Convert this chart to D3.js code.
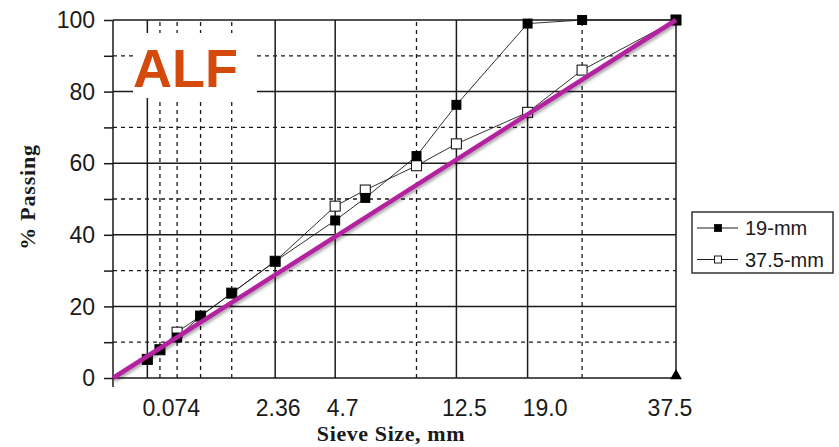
<!DOCTYPE html>
<html>
<head>
<meta charset="utf-8">
<script src="https://cdn.jsdelivr.net/npm/d3@7"></script>
<style>
  html, body { margin: 0; padding: 0; background: #fff; }
  svg { display: block; }
</style>
</head>
<body>
<div id="chart"></div>
<script>
// Sieve sizes (mm) and percent passing for the two gradations
const sieves = [0.075, 0.15, 0.3, 0.6, 1.18, 2.36, 4.75, 6.3, 9.5, 12.5, 19, 25, 37.5];
const pass19 = [5.2, 7.9, 11.3, 17.3, 23.7, 32.6, 44.0, 50.3, 62.0, 76.3, 99.0, 100, 100];
const pass375 = [5.2, 7.9, 12.8, 17.3, 23.7, 32.6, 48.0, 52.5, 59.3, 65.4, 74.2, 86.0, 100];

// Maximum density line end points (0.45 power)
const mdlSizes = [0, 37.5];
const mdlPass = [0, 100];

// Grid lines
const solidSieves = [0.075, 2.36, 4.75, 12.5, 19, 37.5];
const dashedSieves = [0.15, 0.3, 0.6, 1.18, 9.5, 25];
const solidPct = [0, 20, 40, 60, 80, 100];
const dashedPct = [10, 30, 50, 70, 90];

// Axis labels
const xTickValues = [0.075, 2.36, 4.75, 12.5, 19, 37.5];
const xTickLabels = ["0.074", "2.36", "4.7", "12.5", "19.0", "37.5"];
const yTickLabels = [0, 20, 40, 60, 80, 100];
const yMinorTicks = [0, 10, 20, 30, 40, 50, 60, 70, 80, 90, 100];

const seriesNames = ["19-mm", "37.5-mm"];

const W = 839, H = 447;
const svg = d3.select("#chart").append("svg").attr("width", W).attr("height", H);

const x = d3.scalePow().exponent(0.45).domain([0, 37.5]).range([113, 676]);
const y = d3.scaleLinear().domain([0, 100]).range([378, 20]);

const defs = svg.append("defs");
const f = defs.append("filter").attr("id", "shadow").attr("x", "-10%").attr("y", "-10%").attr("width", "120%").attr("height", "120%");
f.append("feDropShadow").attr("dx", 1.5).attr("dy", 2).attr("stdDeviation", 1.5)
  .attr("flood-color", "#000").attr("flood-opacity", 0.35);

const grid = svg.append("g");
const ink = "#1a1a1a";

// dashed grid
grid.selectAll(".dv").data(dashedSieves).enter().append("line")
  .attr("x1", d => x(d)).attr("x2", d => x(d)).attr("y1", y(0)).attr("y2", y(100))
  .attr("stroke", ink).attr("stroke-width", 1.3).attr("stroke-dasharray", "4,4");
grid.selectAll(".dh").data(dashedPct).enter().append("line")
  .attr("x1", x(0)).attr("x2", x(37.5)).attr("y1", d => y(d)).attr("y2", d => y(d))
  .attr("stroke", ink).attr("stroke-width", 1.3).attr("stroke-dasharray", "4,4");

// solid grid
grid.selectAll(".sv").data(solidSieves).enter().append("line")
  .attr("x1", d => x(d)).attr("x2", d => x(d)).attr("y1", y(0)).attr("y2", y(100))
  .attr("stroke", ink).attr("stroke-width", 1.5);
grid.selectAll(".sh").data(solidPct).enter().append("line")
  .attr("x1", x(0)).attr("x2", x(37.5)).attr("y1", d => y(d)).attr("y2", d => y(d))
  .attr("stroke", ink).attr("stroke-width", 1.5);

// y axis
const yAxis = d3.axisLeft(y).tickValues(yMinorTicks).tickSize(9).tickFormat("");
const gy = svg.append("g").attr("transform", `translate(${x(0)},0)`).call(yAxis);
gy.select(".domain").attr("stroke", ink).attr("stroke-width", 1.5).attr("d", `M0,${y(100)}V${y(0) + 9}`);
gy.selectAll(".tick line").attr("stroke", ink).attr("stroke-width", 1.5);

svg.append("g").selectAll("text").data(yTickLabels).enter().append("text")
  .attr("x", 95).attr("y", d => y(d)).attr("dy", "0.36em")
  .attr("text-anchor", "end")
  .attr("font-family", "Arial, 'Liberation Sans', sans-serif").attr("font-size", 23)
  .attr("fill", ink).text(d => d);

// x tick labels (nudged horizontally as laid out on the sheet)
const labelNudge = [24, 3, 7.5, 8, 17.5, -6];
svg.append("g").selectAll("text").data(xTickValues).enter().append("text")
  .attr("x", (d, i) => x(d) + labelNudge[i]).attr("y", 416)
  .attr("text-anchor", "middle")
  .attr("font-family", "Arial, 'Liberation Sans', sans-serif").attr("font-size", 23)
  .attr("fill", ink).text((d, i) => xTickLabels[i]);

// axis titles
svg.append("text").attr("x", 391).attr("y", 441).attr("text-anchor", "middle")
  .attr("font-family", "'Times New Roman', 'Liberation Serif', serif").attr("font-weight", "bold")
  .attr("font-size", 22).attr("letter-spacing", 0.6).attr("fill", ink).text("Sieve Size, mm");
svg.append("text").attr("transform", "translate(35,197) rotate(-90)").attr("text-anchor", "middle")
  .attr("font-family", "'Times New Roman', 'Liberation Serif', serif").attr("font-weight", "bold")
  .attr("font-size", 22).attr("letter-spacing", 0.8).attr("fill", ink).text("% Passing");

// ALF badge
svg.append("rect").attr("x", 133).attr("y", 33).attr("width", 124).attr("height", 65).attr("fill", "#fff");
svg.append("text").attr("x", 133).attr("y", 87)
  .attr("font-family", "Arial, 'Liberation Sans', sans-serif").attr("font-weight", "bold")
  .attr("font-size", 54).attr("fill", "#D44A0C").text("ALF");

// series
const line = d3.line().x(d => x(d[0])).y(d => y(d[1]));
const s375 = sieves.map((s, i) => [s, pass375[i]]);
const s19 = sieves.map((s, i) => [s, pass19[i]]);
const ms = 10;

svg.append("path").datum(s375).attr("d", line).attr("fill", "none").attr("stroke", ink).attr("stroke-width", 0.9);
svg.append("g").selectAll("rect").data(s375).enter().append("rect")
  .attr("x", d => x(d[0]) - ms / 2).attr("y", d => y(d[1]) - ms / 2)
  .attr("width", ms).attr("height", ms).attr("fill", "#fff").attr("stroke", ink).attr("stroke-width", 1.1);

svg.append("path").datum(s19).attr("d", line).attr("fill", "none").attr("stroke", ink).attr("stroke-width", 0.9);
svg.append("g").selectAll("rect").data(s19).enter().append("rect")
  .attr("x", d => x(d[0]) - ms / 2).attr("y", d => y(d[1]) - ms / 2)
  .attr("width", ms).attr("height", ms).attr("fill", "#000");

// stray marker at 37.5 mm, 0 %
svg.append("path").attr("d", d3.symbol().type(d3.symbolTriangle).size(60)())
  .attr("transform", `translate(${x(37.5)},${y(0.6)})`).attr("fill", "#000");

// maximum density line
svg.append("path").datum(mdlSizes.map((s, i) => [s, mdlPass[i]])).attr("d", line)
  .attr("stroke", "#B3209F").attr("stroke-width", 4.5).attr("fill", "none")
  .attr("filter", "url(#shadow)");

// legend
const lg = svg.append("g");
lg.append("rect").attr("x", 692).attr("y", 212).attr("width", 141).attr("height", 61)
  .attr("fill", "#fff").attr("stroke", "#333").attr("stroke-width", 1.5);
seriesNames.forEach((name, i) => {
  const ly = 228 + i * 31.5;
  lg.append("line").attr("x1", 697).attr("x2", 738).attr("y1", ly).attr("y2", ly)
    .attr("stroke", ink).attr("stroke-width", 1);
  lg.append("rect").attr("x", 718 - 3.5).attr("y", ly - 3.5).attr("width", 7).attr("height", 7)
    .attr("fill", i === 0 ? "#000" : "#fff").attr("stroke", ink).attr("stroke-width", 1);
  lg.append("text").attr("x", 745).attr("y", ly).attr("dy", "0.36em")
    .attr("font-family", "Arial, 'Liberation Sans', sans-serif").attr("font-size", 20)
    .attr("fill", ink).text(name);
});
</script>
</body>
</html>
